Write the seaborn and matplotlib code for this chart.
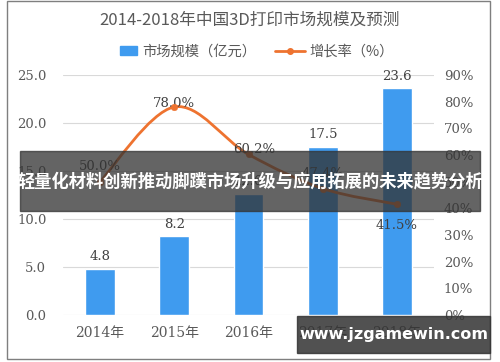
import matplotlib
matplotlib.use("Agg")
import matplotlib.pyplot as plt
from matplotlib.path import Path
from matplotlib.patches import PathPatch, Rectangle
import seaborn as sns
import pandas as pd
import numpy as np

# data
years = ["2014年", "2015年", "2016年", "2017年", "2018年"]
market_size = [4.8, 8.2, 12.6, 17.5, 23.6]        # 亿元
growth_rate = [50.0, 78.0, 60.2, 47.4, 41.5]      # %
growth_labels = ["50.0%", "78.0%", "60.2%", "47.4%", "41.5%"]

title = "2014-2018年中国3D打印市场规模及预测"
bar_name = "市场规模（亿元）"
line_name = "增长率（%）"
banner_text = "轻量化材料创新推动脚蹼市场升级与应用拓展的未来趋势分析"
site_text = "www.jzgamewin.com"

BAR_C = "#3F9BEF"
LINE_C = "#EE7330"
TXT_C = "#595959"

sns.set_style("white")
plt.rcParams['font.family'] = ['Noto Sans CJK SC', 'DejaVu Sans']
serif = ['DejaVu Serif', 'Noto Sans CJK SC']

df = pd.DataFrame({"year": years, "size": market_size})

fig = plt.figure(figsize=(5.0, 3.62), dpi=100)
ax = fig.add_axes([0.126, 0.13, 0.742, 0.663])
ax2 = ax.twinx()

sns.barplot(data=df, x="year", y="size", color=BAR_C, width=0.4,
            saturation=1, ax=ax, zorder=2)
ax.set_xlim(-0.5, 4.5)
ax.set_ylim(0, 25)
ax.set_yticks(np.arange(0, 26, 5))
ax.set_yticklabels([f"{v:.1f}" for v in np.arange(0, 26, 5)], family=serif)
ax.set_xlabel("")
ax.set_ylabel("")
ax.grid(axis="y", color="#D9D9D9", lw=0.8, zorder=0)
ax.tick_params(axis="y", length=0, pad=12, labelsize=9.5, labelcolor=TXT_C)
ax.tick_params(axis="x", length=0, pad=8, labelsize=10, labelcolor=TXT_C)
for lab in ax.get_xticklabels():
    lab.set_family(serif)
for s in ax.spines.values():
    s.set_visible(False)
for s in ax2.spines.values():
    s.set_visible(False)

for i, v in enumerate(market_size):
    ax.annotate(f"{v:.1f}", (i, v), xytext=(0, 4), textcoords="offset points",
                ha="center", va="bottom", fontsize=9.5, color="#404040", family=serif)

# smoothed growth line (catmull-rom -> bezier)
ax2.set_ylim(0, 90)
x = np.arange(len(growth_rate), dtype=float)
y = np.array(growth_rate)
pts = np.column_stack([x, y])
verts = [pts[0]]
codes = [Path.MOVETO]
for i in range(len(pts) - 1):
    p0 = pts[i - 1] if i > 0 else pts[i]
    p1, p2 = pts[i], pts[i + 1]
    p3 = pts[i + 2] if i + 2 < len(pts) else pts[i + 1]
    c1 = p1 + (p2 - p0) / 6
    c2 = p2 - (p3 - p1) / 6
    verts += [c1, c2, p2]
    codes += [Path.CURVE4] * 3
ax2.add_patch(PathPatch(Path(verts, codes), fill=False, ec=LINE_C, lw=2, zorder=3))
sns.scatterplot(x=x, y=y, color=LINE_C, s=22, ax=ax2, zorder=4, edgecolor=LINE_C)
ax2.set_yticks(np.arange(0, 91, 10))
ax2.set_yticklabels([f"{v}%" for v in range(0, 91, 10)], family=serif)
ax2.tick_params(axis="y", length=0, pad=7, labelsize=9.5, labelcolor=TXT_C)
ax2.set_xlim(-0.5, 4.5)

label_offsets = [(0, 6), (0, -2), (4, -1), (0, 6), (0, -20)]
for i, (v, t) in enumerate(zip(growth_rate, growth_labels)):
    ax2.annotate(t, (i, v), xytext=label_offsets[i], textcoords="offset points",
                 ha="center", va="bottom", fontsize=9.5, color="#404040", family=serif)

fig.text(0.5, 0.945, title, ha="center", va="center", fontsize=12, color=TXT_C)

# legend
fig.patches.append(Rectangle((0.24, 0.847), 0.034, 0.025, transform=fig.transFigure,
                             color=BAR_C, figure=fig))
fig.text(0.284, 0.858, bar_name, ha="left", va="center", fontsize=10.3, color=TXT_C)
fig.lines.append(plt.Line2D([0.55, 0.61], [0.858, 0.858], transform=fig.transFigure,
                            color=LINE_C, lw=2, figure=fig))
fig.lines.append(plt.Line2D([0.58], [0.858], transform=fig.transFigure,
                            color=LINE_C, marker="o", markersize=4, figure=fig))
fig.text(0.618, 0.858, line_name, ha="left", va="center", fontsize=10.3, color=TXT_C)

# frame
fig.patches.append(Rectangle((0.014, 0.008), 0.966, 0.99, transform=fig.transFigure,
                             fill=False, ec="#7F7F7F", lw=1, figure=fig))

# overlay banner
fig.patches.append(Rectangle((0.04, 0.417), 0.92, 0.166, transform=fig.transFigure,
                             color="#333333", alpha=0.76, figure=fig, zorder=10))
fig.text(0.5, 0.5, banner_text, ha="center", va="center", fontsize=12.4,
         color="white", weight="bold", zorder=11)

fig.patches.append(Rectangle((0.594, 0.025), 0.386, 0.102, transform=fig.transFigure,
                             color="#333333", alpha=0.85, figure=fig, zorder=10))
fig.text(0.787, 0.076, site_text, ha="center", va="center", fontsize=11.5,
         color="white", weight="bold", family="DejaVu Sans", zorder=11)

fig.savefig("out.png", dpi=100)
